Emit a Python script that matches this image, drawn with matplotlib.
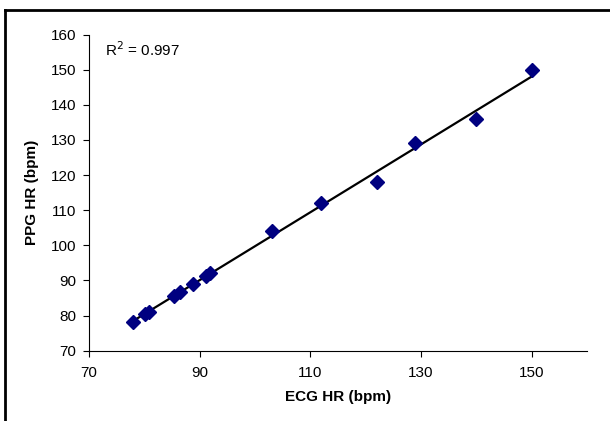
import numpy as np
import matplotlib.pyplot as plt
from matplotlib.lines import Line2D

plt.rcParams['font.family'] = ['Liberation Sans', 'DejaVu Sans']

## Data: heart rate from ECG vs PPG (bpm)
ecg_hr = [78.0, 80.2, 80.8, 85.4, 86.4, 88.8, 91.2, 91.8, 103.0, 112.0, 122.0, 129.0, 140.0, 150.0]
ppg_hr = [78.3, 80.4, 81.0, 85.6, 86.6, 89.1, 91.3, 92.0, 104.2, 112.1, 118.0, 129.0, 136.0, 150.0]

x_ticks = [70, 90, 110, 130, 150]
y_ticks = [70, 80, 90, 100, 110, 120, 130, 140, 150, 160]

# linear fit for the trend line
slope, icpt = np.polyfit(ecg_hr, ppg_hr, 1)
x_fit = np.array([min(ecg_hr), max(ecg_hr)])
y_fit = slope * x_fit + icpt

fig = plt.figure(figsize=(6.1, 4.21), dpi=100)
ax = fig.add_axes([0.146, 0.167, 0.816, 0.751])

ax.plot(x_fit, y_fit, color='black', lw=1.6, zorder=2)
ax.plot(ecg_hr, ppg_hr, 'D', color='#000080', ms=6.8, mec='#000080', zorder=3)

ax.set_xlim(70, 160)
ax.set_ylim(70, 160)
ax.set_xticks(x_ticks)
ax.set_yticks(y_ticks)
ax.tick_params(direction='out', length=4, width=0.8, labelsize=11)
ax.tick_params(axis='x', pad=7)
ax.tick_params(axis='y', pad=5)

for s in ['top', 'right']:
    ax.spines[s].set_visible(False)
for s in ['left', 'bottom']:
    ax.spines[s].set_linewidth(0.8)

ax.set_xlabel('ECG HR (bpm)', fontsize=11, fontweight='bold', labelpad=7)
ax.set_ylabel('PPG HR (bpm)', fontsize=11, fontweight='bold', labelpad=9)

ax.text(0.032, 0.951, 'R$^2$ = 0.997', transform=ax.transAxes, fontsize=11, va='center', ha='left')

# chart frame (left and top edges only)
fig.add_artist(Line2D([5/610, 5/610], [0, 1 - 10/421], transform=fig.transFigure, color='black', lw=2))
fig.add_artist(Line2D([5/610, 1], [1 - 10/421, 1 - 10/421], transform=fig.transFigure, color='black', lw=2))

plt.savefig('out.png', dpi=100)
